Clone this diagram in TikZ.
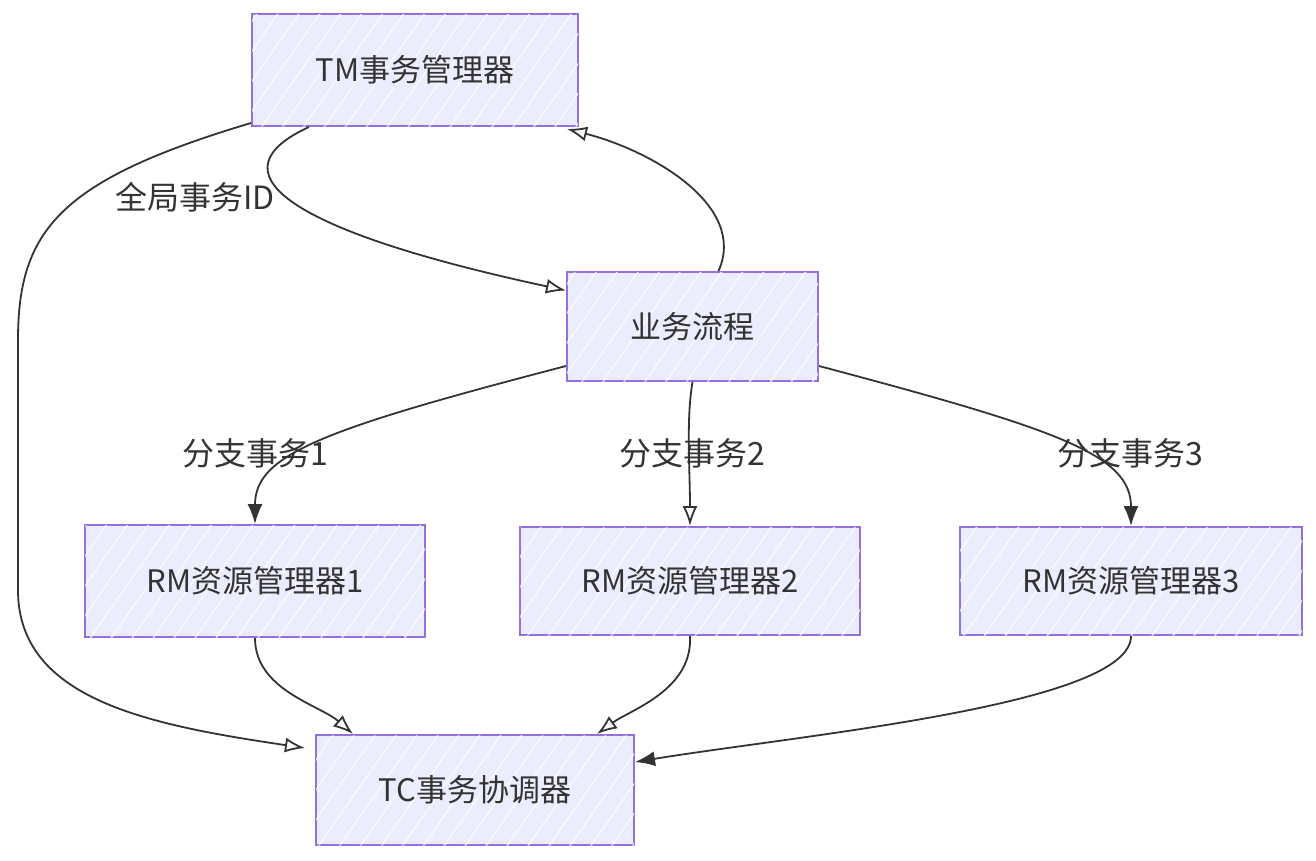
\documentclass[tikz,border=0pt]{standalone}
\usepackage{fontspec}
\newfontfamily\cjk{Noto Sans CJK SC}
\usepackage{tikz}
\usetikzlibrary{arrows.meta, patterns.meta, calc}
\definecolor{boxfill}{HTML}{ECECFF}
\definecolor{boxline}{HTML}{9370DB}
\definecolor{ink}{HTML}{333333}

\begin{document}
\begin{tikzpicture}[x=1pt,y=-1pt,
    box/.style={draw=boxline,line width=2pt,fill=boxfill,text=ink,
      postaction={pattern={Lines[angle=55,distance=17pt,line width=1.3pt]},pattern color=white},
      font=\cjk\fontsize{31}{37}\selectfont,inner sep=0pt},
    lbl/.style={text=ink,font=\cjk\fontsize{32}{37}\selectfont},
    arr/.style={draw=ink,line width=1.8pt,-{Latex[open,length=20pt,width=15pt]}},
    arrfull/.style={draw=ink,line width=1.8pt,-{Latex[length=20pt,width=15pt]}}]
    \useasboundingbox (0,0) rectangle (1316,860);
    \node[box,minimum width=326pt,minimum height=112pt] (tm) at (415,70) {TM事务管理器};
    \node[box,minimum width=251pt,minimum height=109pt] (flow) at (692.5,326.5) {业务流程};
    \node[box,minimum width=340pt,minimum height=112pt] (rm1) at (255,581) {RM资源管理器1};
    \node[box,minimum width=340pt,minimum height=108pt] (rm2) at (690,581) {RM资源管理器2};
    \node[box,minimum width=342pt,minimum height=108pt] (rm3) at (1131,581) {RM资源管理器3};
    \node[box,minimum width=318pt,minimum height=110pt] (tc) at (475,790) {TC事务协调器};

    % TM <-> flow
    \draw[arr] ($(tm.south west)+(58,0)$) .. controls (215,170) and (275,228) .. ($(flow.west)+(0,-36)$);
    \node[lbl] (gid) at (195,197) {全局事务ID};
    \draw[arr] ($(flow.north)+(26,0)$) .. controls (748,205) and (650,150) .. ($(tm.south east)+(-12,2)$);

    % flow -> RM
    \draw[arrfull] ($(flow.south west)+(0,-16)$) .. controls (320,430) and (255,455) .. (rm1.north);
    \node[lbl] (b1) at (255,453) {分支事务1};
    \draw[arr] (flow.south) .. controls (686,420) and (690,470) .. (rm2.north);
    \node[lbl] (b2) at (692,453) {分支事务2};
    \draw[arrfull] ($(flow.south east)+(0,-16)$) .. controls (1060,430) and (1131,455) .. (rm3.north);
    \node[lbl] (b3) at (1130,453) {分支事务3};

    % everything -> TC
    \draw[arr] ($(tm.south west)+(0,-4)$) .. controls (60,180) and (18,230) .. (18,340)
      -- (18,590) .. controls (18,700) and (150,725) .. ($(tc.north west)+(-10,14)$);
    \draw[arr] (rm1.south) .. controls (255,690) and (320,705) .. ($(tc.north west)+(38,0)$);
    \draw[arr] (rm2.south) .. controls (693,690) and (630,710) .. ($(tc.north east)+(-38,0)$);
    \draw[arrfull] (rm3.south) .. controls (1131,705) and (800,735) .. ($(tc.north east)+(0,28)$);
\end{tikzpicture}
\end{document}
